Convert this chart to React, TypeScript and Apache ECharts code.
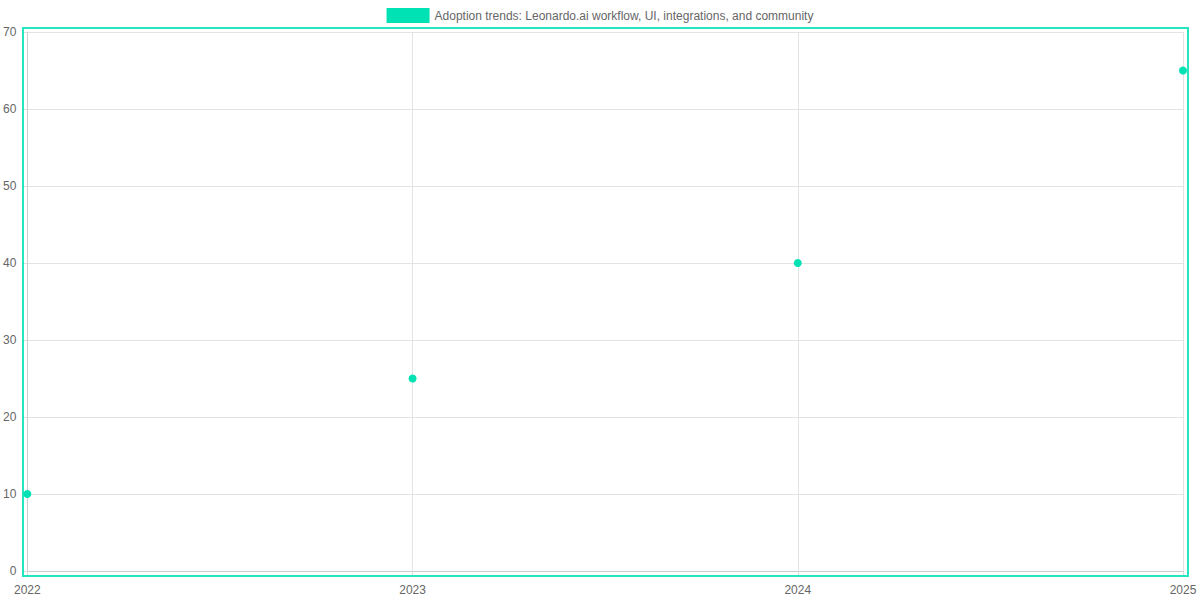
import { useEffect, useRef } from 'react'
import * as echarts from 'echarts'

const YEARS = ['2022', '2023', '2024', '2025']
const ADOPTION = [10, 25, 40, 65]
const SERIES_NAME = 'Adoption trends: Leonardo.ai workflow, UI, integrations, and community'

const TEAL = '#00e2b4'
const FONT = '"Liberation Sans", Arial, sans-serif'

// grid edges in px
const G = { left: 27, right: 17, top: 32, bottom: 29 }

export default function App() {
  const ref = useRef<HTMLDivElement>(null)

  useEffect(() => {
    if (!ref.current) return
    const chart = echarts.init(ref.current, null, { renderer: 'svg' })

    chart.setOption({
      animation: false,
      backgroundColor: '#ffffff',
      textStyle: { fontFamily: FONT },
      legend: {
        top: 3,
        left: 'center',
        icon: 'rect',
        itemWidth: 43,
        itemHeight: 15,
        itemGap: 10,
        textStyle: { color: '#666', fontSize: 12, fontFamily: FONT },
        data: [SERIES_NAME],
      },
      grid: { ...G, containLabel: false },
      xAxis: {
        type: 'category',
        data: YEARS,
        boundaryGap: false,
        axisLine: { show: true, lineStyle: { color: '#ccc' } },
        axisTick: { show: true, length: 5, lineStyle: { color: '#ddd' } },
        axisLabel: { color: '#666', fontSize: 12, margin: 13, fontFamily: FONT },
        splitLine: { show: true, lineStyle: { color: '#e3e3e3' } },
      },
      yAxis: {
        type: 'value',
        min: 0,
        max: 70,
        interval: 10,
        axisLine: { show: true, lineStyle: { color: '#ccc' } },
        axisTick: { show: true, length: 5, lineStyle: { color: '#ddd' } },
        axisLabel: { color: '#666', fontSize: 12, margin: 11, fontFamily: FONT },
        splitLine: { show: true, lineStyle: { color: '#e3e3e3' } },
      },
      graphic: [{
        type: 'rect',
        shape: {
          x: G.left - 4,
          y: G.top - 4,
          width: 1200 - G.left - G.right + 9,
          height: 600 - G.top - G.bottom + 9,
        },
        style: { fill: 'none', stroke: TEAL, lineWidth: 2, opacity: 0.85 },
        silent: true,
        z: 10,
      }],
      series: [{
        name: SERIES_NAME,
        type: 'scatter',
        data: ADOPTION,
        symbol: 'circle',
        symbolSize: 8,
        itemStyle: { color: TEAL, opacity: 1 },
        z: 20,
      }],
    })

    return () => chart.dispose()
  }, [])

  return <div ref={ref} style={{ position: 'fixed', left: 0, top: 0, width: 1200, height: 600 }} />
}
